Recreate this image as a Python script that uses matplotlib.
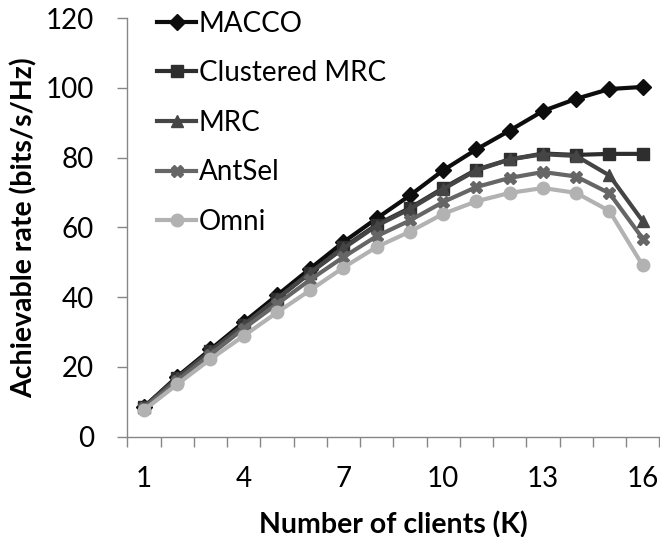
import numpy as np
import matplotlib
matplotlib.use('Agg')
import matplotlib.pyplot as plt

plt.rcParams['font.family'] = ['Lato', 'DejaVu Sans']

clients = list(range(1, 17))
macco = [8.5, 17.2, 25.0, 32.8, 40.5, 48.2, 55.8, 62.6, 69.2, 76.4, 82.4, 87.8, 93.4, 96.9, 99.7, 100.3]
clustered_mrc = [8.5, 16.8, 24.5, 32.0, 39.5, 47.0, 54.3, 60.8, 65.6, 71.3, 76.6, 79.5, 81.2, 80.8, 81.1, 81.1]
mrc = [8.5, 16.8, 24.5, 32.0, 39.5, 47.0, 54.0, 60.5, 65.3, 71.0, 76.4, 79.5, 81.0, 80.5, 74.9, 61.8]
antsel = [8.2, 16.0, 23.5, 31.0, 38.0, 45.0, 51.5, 57.5, 62.0, 67.3, 71.6, 74.2, 75.9, 74.6, 69.8, 56.8]
omni = [7.6, 15.0, 22.2, 28.9, 35.6, 42.0, 48.5, 54.4, 58.8, 63.9, 67.5, 69.9, 71.3, 69.9, 64.7, 49.1]

xtick_labels = [1, 4, 7, 10, 13, 16]
yticks = [0, 20, 40, 60, 80, 100, 120]

fig = plt.figure(figsize=(6.6, 5.37), dpi=100)
ax = fig.add_axes([0.193, 0.187, 0.806, 0.779])

series = [
    ('MACCO', macco, '#0d0d0d', 'D', 8),
    ('Clustered MRC', clustered_mrc, '#2e2e2e', 's', 8.5),
    ('MRC', mrc, '#454545', '^', 9),
    ('AntSel', antsel, '#666666', 'X', 9),
    ('Omni', omni, '#b2b2b2', 'o', 9),
]
for name, vals, col, mk, ms in series:
    ax.plot(clients, vals, color=col, lw=3, marker=mk, markersize=ms,
            markerfacecolor=col, markeredgecolor=col, label=name)

ax.set_xlim(0.5, 16.5)
ax.set_ylim(0, 120)
ax.set_xticks(np.arange(0.5, 17, 1))
ax.set_xticklabels([])
ax.set_xticks(xtick_labels, minor=True)
ax.set_xticklabels([str(v) for v in xtick_labels], minor=True)
ax.tick_params(axis='x', which='major', direction='out', length=7, width=1, color='#868686')
ax.tick_params(axis='x', which='minor', length=0, pad=21, labelsize=20)
ax.set_yticks(yticks)
ax.tick_params(axis='y', direction='out', length=7, width=1, color='#868686', labelsize=20, pad=17)

for s in ['top', 'right']:
    ax.spines[s].set_visible(False)
for s in ['left', 'bottom']:
    ax.spines[s].set_color('#868686')
    ax.spines[s].set_linewidth(1)

ax.set_xlabel('Number of clients (K)', fontsize=20.5, fontweight='bold', labelpad=14)
ax.set_ylabel('Achievable rate (bits/s/Hz)', fontsize=20.5, fontweight='bold', labelpad=6)

leg = ax.legend(loc='upper left', bbox_to_anchor=(0.035, 1.045), frameon=False,
                fontsize=20, handlelength=1.4, handletextpad=0.1, labelspacing=0.85,
                borderaxespad=0)

fig.savefig('out.png', dpi=100)
